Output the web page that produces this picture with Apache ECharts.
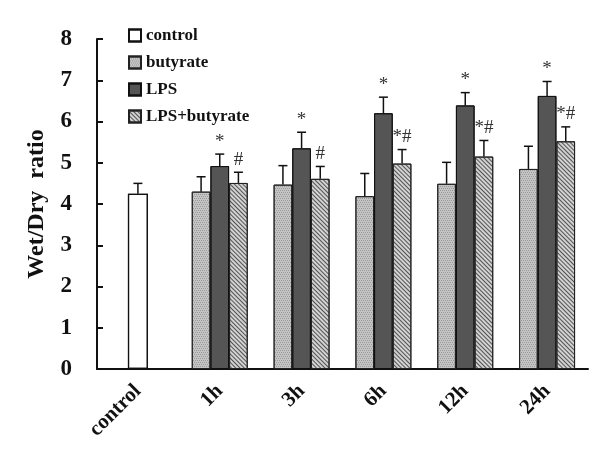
<!DOCTYPE html>
<html><head><meta charset="utf-8">
<script src="https://cdn.jsdelivr.net/npm/echarts@6/dist/echarts.min.js"></script>
<style>html,body{margin:0;padding:0;background:#fff}#c{width:600px;height:473px}</style>
</head><body><div id="c"></div>
<script>
const categories = ['control','1h','3h','6h','12h','24h'];
const seriesNames = ['control','butyrate','LPS','LPS+butyrate'];
const controlMean = [4.25, null, null, null, null, null];
const controlErr  = [0.25, null, null, null, null, null];
const butyrateMean = [null, 4.30, 4.47, 4.19, 4.49, 4.85];
const butyrateErr  = [null, 0.36, 0.46, 0.55, 0.52, 0.55];
const lpsMean = [null, 4.92, 5.35, 6.20, 6.39, 6.62];
const lpsErr  = [null, 0.29, 0.39, 0.39, 0.31, 0.35];
const lpsButMean = [null, 4.51, 4.61, 4.98, 5.15, 5.52];
const lpsButErr  = [null, 0.26, 0.30, 0.34, 0.39, 0.35];
const lpsMarks    = ['', '*', '*', '*', '*', '*'];
const lpsButMarks = ['', '#', '#', '*#', '*#', '*#'];
const yTicks = [0,1,2,3,4,5,6,7,8];

const FONT = 'Liberation Serif';
const BW = 0.228;

// error-bar records: [category, mean, err, slotOffset]
const errData = [];
const errMarks = [];
function addErr(means, errs, k, marks){
  means.forEach((m,i)=>{ if(m!=null){ errData.push([i, m, errs[i], k]); errMarks.push(marks? marks[i] : ''); } });
}
addErr(controlMean, controlErr, 0, null);
addErr(butyrateMean, butyrateErr, -1, null);
addErr(lpsMean, lpsErr, 0, lpsMarks);
addErr(lpsButMean, lpsButErr, 1, lpsButMarks);

const chart = echarts.init(document.getElementById('c'), null, {renderer:'canvas'});
chart.setOption({
  animation:false,
  backgroundColor:'#ffffff',
  aria:{enabled:true, decal:{show:true}},
  grid:{left:97, right:12, top:39, bottom:104, containLabel:false},
  legend:{
    orient:'vertical', left:123, top:22, itemGap:10,
    itemWidth:12, itemHeight:12, icon:'rect',
    data: seriesNames,
    textStyle:{fontFamily:FONT, fontWeight:'bold', fontSize:17, color:'#111', padding:[0,0,0,0]}
  },
  xAxis:[{
    type:'category', data:categories, boundaryGap:true,
    axisLine:{lineStyle:{color:'#111', width:2}},
    axisTick:{inside:true, length:6, lineStyle:{color:'#111', width:2}},
    axisLabel:{rotate:45, margin:19, fontFamily:FONT, fontWeight:'bold', fontSize:21, color:'#111'}
  },{
    type:'category', data:categories, show:false
  }],
  yAxis:{
    type:'value', min:0, max:8, interval:1,
    name:'Wet/Dry  ratio', nameLocation:'middle', nameGap:48,
    nameTextStyle:{fontFamily:FONT, fontWeight:'bold', fontSize:24, color:'#111'},
    axisLine:{show:true, lineStyle:{color:'#111', width:2}},
    axisTick:{show:true, inside:true, length:6, lineStyle:{color:'#111', width:2}},
    axisLabel:{margin:25, fontFamily:FONT, fontWeight:'bold', fontSize:23, color:'#111',
      formatter:v=> yTicks.includes(v)? String(v):''},
    splitLine:{show:false}
  },
  series:[
    {name:'control', type:'bar', xAxisIndex:1, data:controlMean, barWidth:20,
     itemStyle:{color:'#ffffff', borderColor:'#111', borderWidth:1.2, decal:{symbol:'none'}}},
    {name:'butyrate', type:'bar', data:butyrateMean, barWidth:(BW*100)+'%', barGap:'0%',
     itemStyle:{color:'#c4c4c4', borderColor:'#222', borderWidth:1,
       decal:{symbol:'rect', symbolSize:1, dashArrayX:[[1,1],[0,1,1,0]], dashArrayY:[1,1], color:'rgba(120,120,120,0.55)'}}},
    {name:'LPS', type:'bar', data:lpsMean, barWidth:(BW*100)+'%', barGap:'0%',
     itemStyle:{color:'#555555', borderColor:'#111', borderWidth:1, decal:{symbol:'none'}}},
    {name:'LPS+butyrate', type:'bar', data:lpsButMean, barWidth:(BW*100)+'%', barGap:'0%',
     itemStyle:{color:'#d2d2d2', borderColor:'#222', borderWidth:1,
       decal:{symbol:'rect', symbolSize:1, rotation:Math.PI/4, dashArrayX:[1,0], dashArrayY:[1,2], color:'rgba(60,60,60,0.85)'}}},
    {name:'err', type:'custom', data:errData, z:10, silent:true,
     encode:{x:0, y:1},
     renderItem:function(params, api){
       const cat=api.value(0), m=api.value(1), e=api.value(2), k=api.value(3);
       const band = api.size([1,0])[0];
       const b = api.coord([cat, m]);
       const t = api.coord([cat, m+e]);
       const x = b[0] + k*band*BW;
       const children = [
         {type:'line', shape:{x1:x, y1:b[1], x2:x, y2:t[1]}, style:{stroke:'#111', lineWidth:1.5}},
         {type:'line', shape:{x1:x-4.5, y1:t[1], x2:x+4.5, y2:t[1]}, style:{stroke:'#111', lineWidth:1.5}}
       ];
       const mk = errMarks[params.dataIndex];
       if(mk){
         children.push({type:'text', x:x, y:t[1]-3, style:{text:mk, textAlign:'center', textVerticalAlign:'bottom',
           font:'19px "Liberation Serif"', fill:'#333'}});
       }
       return {type:'group', children};
     }}
  ]
});
</script></body></html>
